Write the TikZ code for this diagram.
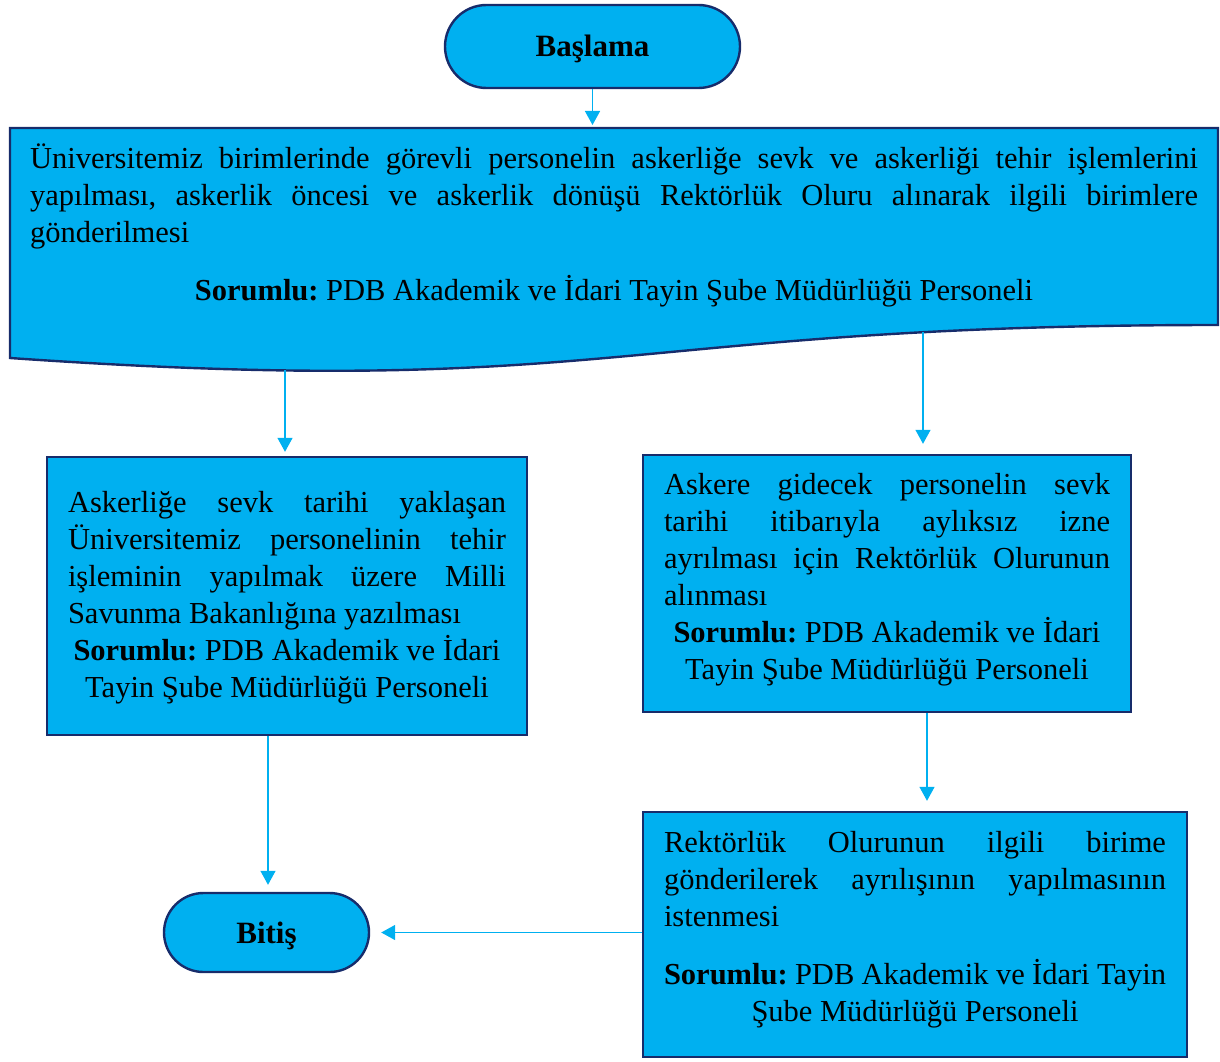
\documentclass[tikz,border=0pt]{standalone}
\usepackage{fontspec}
\setmainfont{Liberation Serif}
\usetikzlibrary{arrows.meta}
\definecolor{boxfill}{HTML}{00B0F0}
\definecolor{boxline}{HTML}{172C6B}
\definecolor{arrowc}{HTML}{00B0F0}
\newcommand\rsp{\spaceskip=0pt\xspaceskip=0pt\frenchspacing\rightskip=0pt\relax}
\newcommand\jl[1]{\noindent\makebox[\hsize][s]{#1}\par}
\begin{document}
\begin{tikzpicture}[x=1pt,y=-1pt,
  term/.style={draw=boxline, line width=2.4pt, fill=boxfill, inner sep=0pt,
     text height=21pt, text depth=0pt,
     font=\bfseries\fontsize{31}{37}\selectfont},
  proc/.style={draw=boxline, line width=2.4pt, fill=boxfill, inner sep=0pt},
  txt/.style={inner sep=0pt, font=\fontsize{30.5}{37}\selectfont},
  conn/.style={draw=arrowc, line width=1.4pt, -{Triangle[length=14pt,width=15pt]}}]
\useasboundingbox (0,0) rectangle (1220,1062);
% start
\node[term, rounded corners=41.5pt, minimum width=295pt, minimum height=83pt] (start) at (592.5,46.5) {Başlama};
% document shape
\draw[proc] (10,128) -- (1218,128) -- (1218,325) .. controls (614,325) and (614,400) .. (10,358) -- cycle;
\coordinate (dtop) at (592.5,128);
\coordinate (w1) at (285,370);
\coordinate (w2) at (923,332);
\node[txt, text width=1168pt] (doc) at (614,225) {\rsp
\jl{Üniversitemiz birimlerinde görevli personelin askerliğe sevk ve askerliği tehir işlemlerini}
\jl{yapılması, askerlik öncesi ve askerlik dönüşü Rektörlük Oluru alınarak ilgili birimlere}
\noindent gönderilmesi\par
\vspace{21pt}
{\centering \textbf{Sorumlu:} PDB Akademik ve İdari Tayin Şube Müdürlüğü Personeli\par}};
% left box
\node[proc, minimum width=480pt, minimum height=278pt] (lbox) at (287,596) {};
\node[txt, text width=438pt] (lboxt) at (287,598) {\rsp
\jl{Askerliğe sevk tarihi yaklaşan}
\jl{Üniversitemiz personelinin tehir}
\jl{işleminin yapılmak üzere Milli}
\noindent Savunma Bakanlığına yazılması\par
{\centering \textbf{Sorumlu:} PDB Akademik ve İdari\\ Tayin Şube Müdürlüğü Personeli\par}};
% right box
\node[proc, minimum width=488pt, minimum height=257pt] (rbox) at (887,583.5) {};
\node[txt, text width=446pt] (rboxt) at (887,579.5) {\rsp
\jl{Askere gidecek personelin sevk}
\jl{tarihi itibarıyla aylıksız izne}
\jl{ayrılması için Rektörlük Olurunun}
\noindent alınması\par
{\centering \textbf{Sorumlu:} PDB Akademik ve İdari\\ Tayin Şube Müdürlüğü Personeli\par}};
% bottom right box
\node[proc, minimum width=544pt, minimum height=245pt] (brbox) at (915,934.5) {};
\node[txt, text width=502pt] (brboxt) at (915,929.5) {\rsp
\jl{Rektörlük Olurunun ilgili birime}
\jl{gönderilerek ayrılışının yapılmasının}
\noindent istenmesi\par
\vspace{21pt}
{\centering \textbf{Sorumlu:} PDB Akademik ve İdari Tayin\\ Şube Müdürlüğü Personeli\par}};
% end
\node[term, rounded corners=39.5pt, minimum width=205pt, minimum height=79pt] (bitis) at (266.5,932.5) {Bitiş};
% connectors
\draw[conn, shorten >=3pt] (start.south) -- (dtop);
\draw[conn, shorten >=4pt] (w1) -- (w1 |- lbox.north);
\draw[conn, shorten >=10pt] (w2) -- (w2 |- rbox.north);
\draw[conn, shorten >=10pt] ([xshift=40pt]rbox.south) -- ([xshift=40pt]rbox.south |- brbox.north);
\draw[conn, shorten >=7pt] ([xshift=-19pt]lbox.south) -- ([xshift=-19pt]lbox.south |- bitis.north);
\draw[conn, shorten >=11pt] (brbox.west |- bitis) -- (bitis.east);
\end{tikzpicture}
\end{document}
